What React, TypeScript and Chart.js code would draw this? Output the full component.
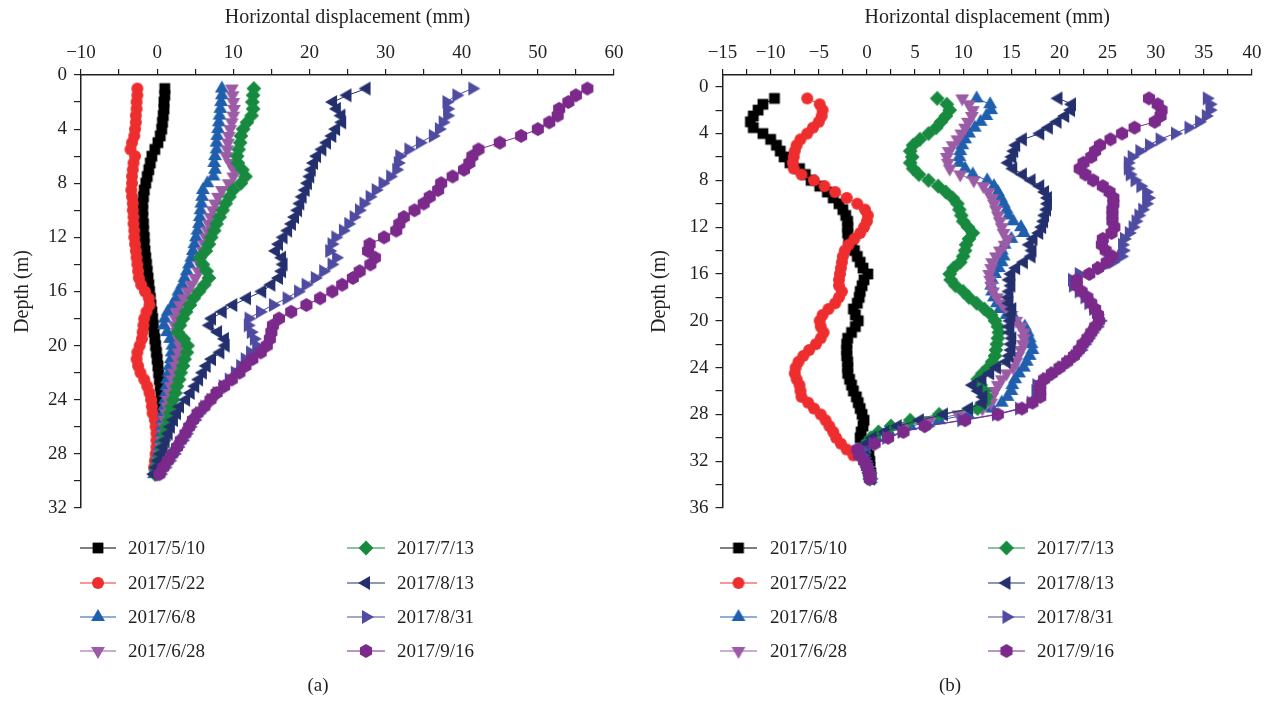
import React, { useEffect, useRef } from "react";
import { Chart, registerables } from "chart.js";

Chart.register(...registerables);

const FONT = "'Liberation Serif', 'Times New Roman', Times, serif";
const INK = "#231F20";

// ---------- series meta ----------
const seriesLabels = ["2017/5/10", "2017/5/22", "2017/6/8", "2017/6/28", "2017/7/13", "2017/8/13", "2017/8/31", "2017/9/16"];
const seriesColors = ["#000000", "#EE2E2E", "#1F5FAD", "#9B5BA5", "#178A3F", "#24306E", "#4E4BA0", "#7B2A8C"];
const markerShapes = ["square", "circle", "triUp", "triDown", "diamond", "triLeft", "triRight", "hexagon"];

// ---------- panel (a) ----------
const depthsA = [1, 1.5, 2, 2.5, 3, 3.5, 4, 4.5, 5, 5.5, 6, 6.5, 7, 7.5, 8, 8.5, 9, 9.5, 10, 10.5, 11, 11.5, 12, 12.5, 13, 13.5, 14, 14.5, 15, 15.5, 16, 16.5, 17, 17.5, 18, 18.5, 19, 19.5, 20, 20.5, 21, 21.5, 22, 22.5, 23, 23.5, 24, 24.5, 25, 25.5, 26, 26.5, 27, 27.5, 28, 28.5, 29, 29.5];
const a0510 = [1.0, 1.0, 0.9, 0.9, 0.8, 0.7, 0.6, 0.4, 0.1, -0.3, -0.7, -0.9, -1.1, -1.3, -1.5, -1.7, -1.8, -1.9, -1.9, -1.9, -1.8, -1.8, -1.7, -1.7, -1.6, -1.5, -1.4, -1.3, -1.2, -1.1, -1.0, -0.9, -0.8, -0.7, -0.6, -0.5, -0.4, -0.3, -0.2, -0.1, 0.0, 0.1, 0.2, 0.3, 0.4, 0.5, 0.6, 0.6, 0.7];
const a0522 = [-2.6, -2.6, -2.7, -2.7, -2.8, -2.8, -2.9, -3.0, -3.3, -3.5, -2.9, -3.1, -3.2, -3.3, -3.3, -3.4, -3.3, -3.2, -3.2, -3.1, -3.1, -3.0, -3.0, -2.9, -2.8, -2.7, -2.6, -2.5, -2.4, -2.1, -1.6, -1.1, -1.0, -1.4, -1.7, -1.8, -1.9, -2.0, -2.3, -2.6, -2.7, -2.5, -2.2, -1.7, -1.3, -1.0, -0.8, -0.7, -0.6, -0.3, -0.2, -0.1, -0.1, -0.1, -0.2, -0.3, -0.4];
const a0608 = [8.5, 8.5, 8.4, 8.3, 8.2, 8.1, 8.0, 7.9, 7.8, 7.8, 7.6, 7.5, 7.6, 7.4, 6.6, 6.0, 5.9, 5.8, 5.7, 5.6, 5.5, 5.3, 5.1, 4.9, 4.7, 4.5, 4.2, 3.9, 3.6, 3.3, 2.8, 2.5, 2.0, 1.4, 1.0, 0.9, 1.3, 1.7, 2.0, 1.9, 1.8, 1.6, 1.5, 1.3, 1.2, 1.1, 1.0, 0.9, 0.8, 0.7, 0.6, 0.5, 0.4, 0.3, 0.1, 0.0, -0.2, -0.4];
const a0628 = [9.8, 9.9, 10.0, 10.1, 10.0, 9.8, 9.6, 9.4, 9.3, 9.2, 9.1, 9.6, 10.1, 10.0, 9.4, 8.5, 8.0, 7.6, 7.3, 7.0, 6.8, 6.6, 6.4, 6.2, 6.0, 5.8, 5.6, 5.4, 5.0, 4.5, 4.0, 3.5, 3.0, 2.6, 2.4, 2.3, 2.6, 2.8, 3.0, 2.8, 2.6, 2.4, 2.2, 2.0, 1.8, 1.6, 1.4, 1.3, 1.2, 1.0, 0.9, 0.8, 0.6, 0.5, 0.3, 0.1, 0.0, -0.2];
const a0713 = [12.7, 12.6, 12.5, 12.6, 12.4, 11.8, 11.3, 11.0, 10.9, 10.7, 10.5, 10.6, 11.2, 11.6, 11.0, 10.0, 9.5, 9.0, 8.6, 8.2, 7.8, 7.5, 7.1, 6.8, 6.4, 5.6, 6.0, 6.5, 6.8, 6.2, 5.5, 4.8, 4.3, 3.8, 3.4, 3.0, 2.7, 3.5, 4.0, 3.9, 3.6, 3.4, 3.1, 2.9, 2.6, 2.4, 2.1, 1.9, 1.7, 1.5, 1.2, 1.0, 0.9, 0.7, 0.4, 0.1, -0.1, -0.3];
const a0813 = [27.5, 25.0, 23.1, 23.6, 24.2, 24.3, 23.5, 23.0, 22.3, 21.7, 21.0, 20.6, 20.3, 20.1, 19.8, 19.5, 19.1, 18.8, 18.5, 18.1, 17.7, 17.2, 16.6, 16.0, 15.6, 16.4, 16.6, 16.4, 16.0, 15.0, 13.8, 11.8, 10.0, 8.6, 7.2, 6.9, 8.0, 8.9, 9.0, 8.3, 7.2, 6.5, 6.0, 5.5, 5.0, 4.4, 3.8, 3.0, 2.6, 2.2, 1.8, 1.5, 1.1, 0.8, 0.5, 0.2, -0.1, -0.4];
const a0831 = [41.4, 39.3, 38.0, 38.1, 38.1, 37.5, 37.0, 36.2, 34.5, 33.0, 31.8, 31.6, 31.4, 30.6, 29.6, 28.7, 27.9, 27.1, 26.5, 25.8, 25.1, 24.4, 23.4, 22.9, 22.6, 23.5, 22.9, 21.8, 20.7, 19.5, 18.5, 17.0, 15.2, 13.5, 12.0, 11.9, 12.3, 12.7, 13.0, 12.2, 11.5, 10.9, 10.2, 9.4, 8.6, 7.8, 7.0, 6.2, 5.5, 4.9, 4.3, 3.8, 3.3, 2.7, 2.2, 1.6, 1.0, 0.4];
const a0916 = [56.5, 55.0, 54.0, 52.8, 52.6, 51.5, 50.0, 47.8, 45.0, 42.2, 41.4, 41.0, 40.3, 38.8, 37.3, 36.9, 35.8, 35.0, 33.8, 32.4, 31.8, 31.4, 29.8, 27.9, 27.7, 28.6, 28.0, 26.6, 25.7, 24.3, 23.0, 21.4, 19.6, 17.6, 16.0, 15.2, 15.0, 14.8, 14.4, 13.6, 12.5, 11.6, 10.8, 9.8, 8.8, 7.8, 7.0, 6.2, 5.3, 4.7, 4.2, 3.7, 3.1, 2.6, 2.0, 1.4, 0.8, 0.3];

const xTicksA = [-10, -5, 0, 5, 10, 15, 20, 25, 30, 35, 40, 45, 50, 55, 60];
const xLabelsA = [-10, 0, 10, 20, 30, 40, 50, 60];
const yTicksA = [0, 2, 4, 6, 8, 10, 12, 14, 16, 18, 20, 22, 24, 26, 28, 30, 32];
const yLabelsA = [0, 4, 8, 12, 16, 20, 24, 28, 32];

// ---------- panel (b) ----------
const depthsB = [1, 1.5, 2, 2.5, 3, 3.5, 4, 4.5, 5, 5.5, 6, 6.5, 7, 7.5, 8, 8.5, 9, 9.5, 10, 10.5, 11, 11.5, 12, 12.5, 13, 13.5, 14, 14.5, 15, 15.5, 16, 16.5, 17, 17.5, 18, 18.5, 19, 19.5, 20, 20.5, 21, 21.5, 22, 22.5, 23, 23.5, 24, 24.5, 25, 25.5, 26, 26.5, 27, 27.5, 28, 28.5, 29, 29.5, 30, 30.5, 31, 31.5, 32, 32.5, 33, 33.5];
const b0510 = [-9.6, -10.8, -11.3, -11.8, -12.1, -11.8, -10.8, -10.0, -9.4, -9.0, -8.6, -8.0, -7.0, -6.4, -5.8, -4.9, -4.1, -3.5, -2.9, -2.5, -2.2, -2.0, -2.0, -2.0, -1.9, -1.6, -1.3, -1.0, -0.7, -0.4, 0.1, -0.3, -0.5, -0.7, -0.8, -1.0, -1.4, -1.2, -0.9, -1.2, -1.6, -2.0, -2.1, -2.1, -2.1, -2.0, -2.0, -2.0, -1.8, -1.6, -1.4, -1.1, -0.9, -0.7, -0.5, -0.3, -0.4, -0.6, -0.7, -0.3, 0.0, 0.2, 0.3, 0.3, 0.4, 0.4];
const b0522 = [-6.2, -4.9, -4.6, -4.7, -5.0, -5.6, -6.2, -6.9, -7.3, -7.5, -7.6, -7.7, -7.6, -6.8, -5.5, -4.4, -3.3, -2.1, -1.0, -0.2, 0.1, 0.0, -0.3, -0.7, -1.3, -1.9, -2.3, -2.5, -2.6, -2.7, -2.8, -2.9, -2.9, -2.6, -2.9, -3.3, -4.0, -4.6, -4.9, -4.8, -4.5, -4.8, -5.3, -6.0, -6.6, -7.1, -7.4, -7.5, -7.3, -7.0, -6.9, -6.8, -6.1, -5.5, -4.8, -4.3, -3.9, -3.5, -3.2, -2.7, -2.1, -1.4];
const b0608 = [11.4, 12.8, 12.9, 12.4, 11.8, 11.2, 10.6, 10.2, 9.9, 9.7, 9.6, 9.6, 10.2, 11.0, 12.5, 13.2, 13.6, 13.9, 14.2, 14.5, 14.7, 15.2, 16.0, 16.3, 15.0, 14.3, 14.0, 14.2, 14.0, 13.7, 13.3, 13.0, 12.9, 13.0, 13.2, 13.5, 13.8, 14.5, 15.5, 16.4, 16.7, 16.9, 17.1, 17.2, 16.9, 16.6, 16.3, 15.8, 15.4, 15.1, 15.0, 14.6, 14.0, 13.0, 10.5, 7.5, 4.5, 2.3, 1.0, 0.3, -0.2, -0.3, -0.1, 0.1, 0.3, 0.4];
const b0628 = [9.9, 10.6, 11.0, 10.9, 10.5, 10.2, 9.8, 9.4, 8.9, 8.5, 8.3, 8.4, 8.6, 9.7, 11.1, 12.1, 12.6, 13.0, 13.2, 13.4, 13.6, 13.8, 14.0, 14.2, 14.6, 14.3, 13.8, 13.4, 13.0, 12.9, 12.7, 12.8, 12.9, 13.1, 13.5, 14.0, 14.5, 15.0, 15.5, 16.0, 16.3, 16.3, 16.2, 16.0, 15.7, 15.5, 15.2, 14.5, 14.0, 13.6, 13.3, 13.0, 12.9, 12.0, 9.5, 6.5, 4.0, 2.0, 0.8, 0.1, -0.3, -0.4, -0.2, 0.0, 0.2, 0.3];
const b0713 = [7.3, 8.3, 8.6, 8.2, 7.7, 7.2, 6.4, 5.5, 4.8, 4.5, 4.7, 4.5, 4.8, 5.4, 6.4, 7.4, 8.2, 8.9, 9.4, 9.6, 9.8, 10.0, 10.5, 11.0, 10.6, 10.3, 10.2, 10.0, 9.7, 9.0, 8.6, 8.7, 9.2, 10.0, 10.6, 11.4, 12.2, 12.9, 13.3, 13.6, 13.7, 13.6, 13.5, 13.4, 13.3, 13.0, 12.6, 12.0, 11.5, 11.8, 12.2, 12.4, 12.2, 11.5, 7.5, 4.5, 2.5, 1.2, 0.4, -0.1, -0.4, -0.4, -0.2, 0.0, 0.2, 0.3];
const b0813 = [19.9, 21.3, 21.2, 20.6, 19.8, 18.9, 18.0, 16.2, 15.5, 15.3, 15.1, 14.7, 15.2, 16.2, 17.1, 18.0, 18.5, 18.8, 18.8, 18.7, 18.5, 18.4, 18.2, 17.9, 17.3, 16.9, 17.2, 17.1, 16.3, 15.5, 15.0, 14.8, 15.0, 14.8, 14.7, 14.8, 15.1, 15.0, 14.9, 14.8, 14.9, 15.1, 15.0, 15.0, 14.8, 14.5, 13.5, 12.8, 12.0, 11.0, 11.6, 12.1, 12.0, 10.6, 8.0, 5.5, 3.2, 1.9, 0.6, 0.0, -0.3, -0.2, 0.0, 0.2, 0.3, 0.4];
const b0831 = [35.3, 35.6, 35.6, 35.2, 34.5, 33.4, 32.0, 30.4, 29.3, 28.3, 27.5, 27.1, 27.1, 27.3, 27.8, 28.4, 29.0, 29.2, 29.0, 28.6, 28.2, 27.9, 27.6, 27.2, 26.7, 26.5, 26.6, 26.4, 25.5, 24.2, 22.0, 21.3, 21.4, 22.0, 22.6, 23.0, 23.5, 23.9, 24.2, 23.9, 23.4, 23.0, 22.6, 22.2, 21.6, 20.9, 20.2, 19.4, 18.6, 17.6, 17.5, 17.6, 17.0, 15.8, 13.4, 9.8, 6.3, 3.6, 2.0, 0.6, -0.5, -0.5, -0.2, 0.1, 0.3, 0.4];
const b0916 = [29.3, 30.2, 30.6, 30.5, 29.9, 27.8, 26.5, 25.3, 24.2, 23.7, 23.3, 22.5, 22.1, 22.7, 23.5, 24.5, 25.2, 25.6, 25.6, 25.5, 25.5, 25.5, 25.7, 25.4, 24.5, 24.4, 24.8, 25.5, 24.9, 24.0, 23.1, 21.8, 21.8, 22.3, 22.9, 23.3, 23.7, 24.0, 24.1, 23.7, 23.3, 22.9, 22.4, 22.0, 21.5, 20.8, 20.0, 19.2, 18.4, 18.0, 18.0, 18.0, 17.2, 16.1, 13.6, 10.2, 6.0, 3.8, 2.2, 0.8, -1.0, -0.8, -0.3, 0.0, 0.2, 0.3];

const xTicksB = [-15, -12.5, -10, -7.5, -5, -2.5, 0, 2.5, 5, 7.5, 10, 12.5, 15, 17.5, 20, 22.5, 25, 27.5, 30, 32.5, 35, 37.5, 40];
const xLabelsB = [-15, -10, -5, 0, 5, 10, 15, 20, 25, 30, 35, 40];
const yTicksB = [0, 2, 4, 6, 8, 10, 12, 14, 16, 18, 20, 22, 24, 26, 28, 30, 32, 34, 36];
const yLabelsB = [0, 4, 8, 12, 16, 20, 24, 28, 32, 36];

// ---------- helpers ----------
const fmt = (v: number) => (v < 0 ? "\u2212" + Math.abs(v) : String(v));

function pathMarker(ctx: CanvasRenderingContext2D, shape: string, cx: number, cy: number) {
  ctx.beginPath();
  if (shape === "square") {
    const h = 5.4;
    ctx.rect(cx - h, cy - h, 2 * h, 2 * h);
  } else if (shape === "circle") {
    ctx.arc(cx, cy, 6.0, 0, Math.PI * 2);
  } else if (shape === "diamond") {
    const r = 7.4;
    ctx.moveTo(cx, cy - r);
    ctx.lineTo(cx + r, cy);
    ctx.lineTo(cx, cy + r);
    ctx.lineTo(cx - r, cy);
    ctx.closePath();
  } else if (shape === "hexagon") {
    const r = 7.0;
    for (let k = 0; k < 6; k++) {
      const a = -Math.PI / 2 + (k * Math.PI) / 3;
      const px = cx + r * Math.cos(a);
      const py = cy + r * Math.sin(a);
      if (k === 0) ctx.moveTo(px, py);
      else ctx.lineTo(px, py);
    }
    ctx.closePath();
  } else {
    const base = shape === "triUp" ? -90 : shape === "triDown" ? 90 : shape === "triLeft" ? 180 : 0;
    const r = 8;
    for (let k = 0; k < 3; k++) {
      const a = ((base + k * 120) * Math.PI) / 180;
      const px = cx + r * Math.cos(a);
      const py = cy + r * Math.sin(a);
      if (k === 0) ctx.moveTo(px, py);
      else ctx.lineTo(px, py);
    }
    ctx.closePath();
  }
}

function makeMarker(shape: string, color: string): HTMLCanvasElement {
  const c = document.createElement("canvas");
  c.width = 20;
  c.height = 20;
  const ctx = c.getContext("2d")!;
  pathMarker(ctx, shape, 10, 10);
  ctx.fillStyle = color;
  ctx.fill();
  return c;
}

type PanelCfg = {
  depths: number[];
  series: number[][];
  xMin: number;
  xMax: number;
  yMin: number;
  yMax: number;
  xTicks: number[];
  xLabels: number[];
  yTicks: number[];
  yLabels: number[];
  axisLeft: number;
  padRight: number;
  caption: string;
  captionX: number;
  legendCols: { x0: number; x1: number; tx: number }[];
};

const legendRows = [548, 583, 617, 651];
const captionY = 686;
const W = 637;
const H = 701;
const AXIS_TOP = 75;
const AXIS_BOTTOM = 508;

const panelA: PanelCfg = {
  depths: depthsA,
  series: [a0510, a0522, a0608, a0628, a0713, a0813, a0831, a0916],
  xMin: -10, xMax: 60, yMin: 0, yMax: 32,
  xTicks: xTicksA, xLabels: xLabelsA, yTicks: yTicksA, yLabels: yLabelsA,
  axisLeft: 81, padRight: 23,
  caption: "(a)", captionX: 318,
  legendCols: [{ x0: 80, x1: 116, tx: 128 }, { x0: 347, x1: 385, tx: 397 }],
};

const panelB: PanelCfg = {
  depths: depthsB,
  series: [b0510, b0522, b0608, b0628, b0713, b0813, b0831, b0916],
  xMin: -15, xMax: 40, yMin: -1, yMax: 36,
  xTicks: xTicksB, xLabels: xLabelsB, yTicks: yTicksB, yLabels: yLabelsB,
  axisLeft: 85.5, padRight: 22,
  caption: "(b)", captionX: 313,
  legendCols: [{ x0: 83, x1: 120, tx: 133 }, { x0: 351, x1: 388, tx: 400 }],
};

function Panel({ cfg }: { cfg: PanelCfg }) {
  const ref = useRef<HTMLCanvasElement>(null);
  useEffect(() => {
    const markers = seriesColors.map((c, i) => makeMarker(markerShapes[i], c));
    const datasets = cfg.series.map((vals, i) => ({
      label: seriesLabels[i],
      data: vals.map((v, j) => ({ x: v, y: cfg.depths[j] })),
      showLine: true,
      borderColor: seriesColors[i],
      backgroundColor: seriesColors[i],
      borderWidth: 1,
      pointStyle: markers[i],
      pointRadius: 6,
      pointHoverRadius: 6,
      order: 7 - i,
      clip: false as any,
    }));

    const legendPlugin = {
      id: "panelLegend",
      afterDraw(chart: any) {
        const ctx: CanvasRenderingContext2D = chart.ctx;
        ctx.save();
        ctx.font = `19px ${FONT}`;
        ctx.textBaseline = "middle";
        ctx.textAlign = "left";
        for (let i = 0; i < 8; i++) {
          const col = cfg.legendCols[i < 4 ? 0 : 1];
          const y = legendRows[i % 4];
          ctx.strokeStyle = seriesColors[i];
          ctx.lineWidth = 1.2;
          ctx.beginPath();
          ctx.moveTo(col.x0, y);
          ctx.lineTo(col.x1, y);
          ctx.stroke();
          const mx = (col.x0 + col.x1) / 2;
          ctx.drawImage(markers[i], mx - 10, y - 10);
          ctx.fillStyle = INK;
          ctx.fillText(seriesLabels[i], col.tx, y + 1);
        }
        ctx.textAlign = "center";
        ctx.fillText(cfg.caption, cfg.captionX, captionY);
        ctx.restore();
      },
    };

    const chart = new Chart(ref.current!, {
      type: "scatter",
      data: { datasets },
      options: {
        responsive: false,
        devicePixelRatio: 1,
        animation: false,
        events: [],
        layout: { padding: { left: 0, top: 0, right: cfg.padRight, bottom: H - AXIS_BOTTOM } },
        plugins: { legend: { display: false }, tooltip: { enabled: false } },
        scales: {
          x: {
            type: "linear",
            position: "top",
            min: cfg.xMin,
            max: cfg.xMax,
            afterBuildTicks: (axis: any) => {
              axis.ticks = cfg.xTicks.map((v) => ({ value: v }));
            },
            afterFit: (axis: any) => {
              axis.height = AXIS_TOP;
            },
            ticks: {
              autoSkip: false,
              maxRotation: 0,
              minRotation: 0,
              padding: 5,
              color: INK,
              font: { family: FONT, size: 19 },
              callback: (v: any) => (cfg.xLabels.includes(Number(v)) ? fmt(Number(v)) : ""),
            },
            grid: { display: true, drawOnChartArea: false, drawTicks: true, tickLength: 6, color: INK, lineWidth: 1.2 },
            border: { display: true, color: INK, width: 1.5 },
            title: { display: true, text: "Horizontal displacement (mm)", color: INK, font: { family: FONT, size: 20 }, padding: { top: 6, bottom: 0 } },
          },
          y: {
            type: "linear",
            position: "left",
            reverse: true,
            min: cfg.yMin,
            max: cfg.yMax,
            afterBuildTicks: (axis: any) => {
              axis.ticks = cfg.yTicks.map((v) => ({ value: v }));
            },
            afterFit: (axis: any) => {
              axis.width = cfg.axisLeft;
            },
            ticks: {
              autoSkip: false,
              padding: 7,
              color: INK,
              font: { family: FONT, size: 19 },
              callback: (v: any) => (cfg.yLabels.includes(Number(v)) ? fmt(Number(v)) : ""),
            },
            grid: { display: true, drawOnChartArea: false, drawTicks: true, tickLength: 7, color: INK, lineWidth: 1.2 },
            border: { display: true, color: INK, width: 1.5 },
            title: { display: true, text: "Depth (m)", color: INK, font: { family: FONT, size: 20 }, padding: { top: 11, bottom: 0 } },
          },
        },
      } as any,
      plugins: [legendPlugin],
    });
    return () => chart.destroy();
  }, [cfg]);
  return <canvas ref={ref} width={W} height={H} style={{ display: "block", width: W, height: H }} />;
}

export default function App() {
  return (
    <div style={{ position: "absolute", left: 0, top: 0, width: 1274, height: 701, display: "flex", background: "#fff" }}>
      <Panel cfg={panelA} />
      <Panel cfg={panelB} />
    </div>
  );
}
